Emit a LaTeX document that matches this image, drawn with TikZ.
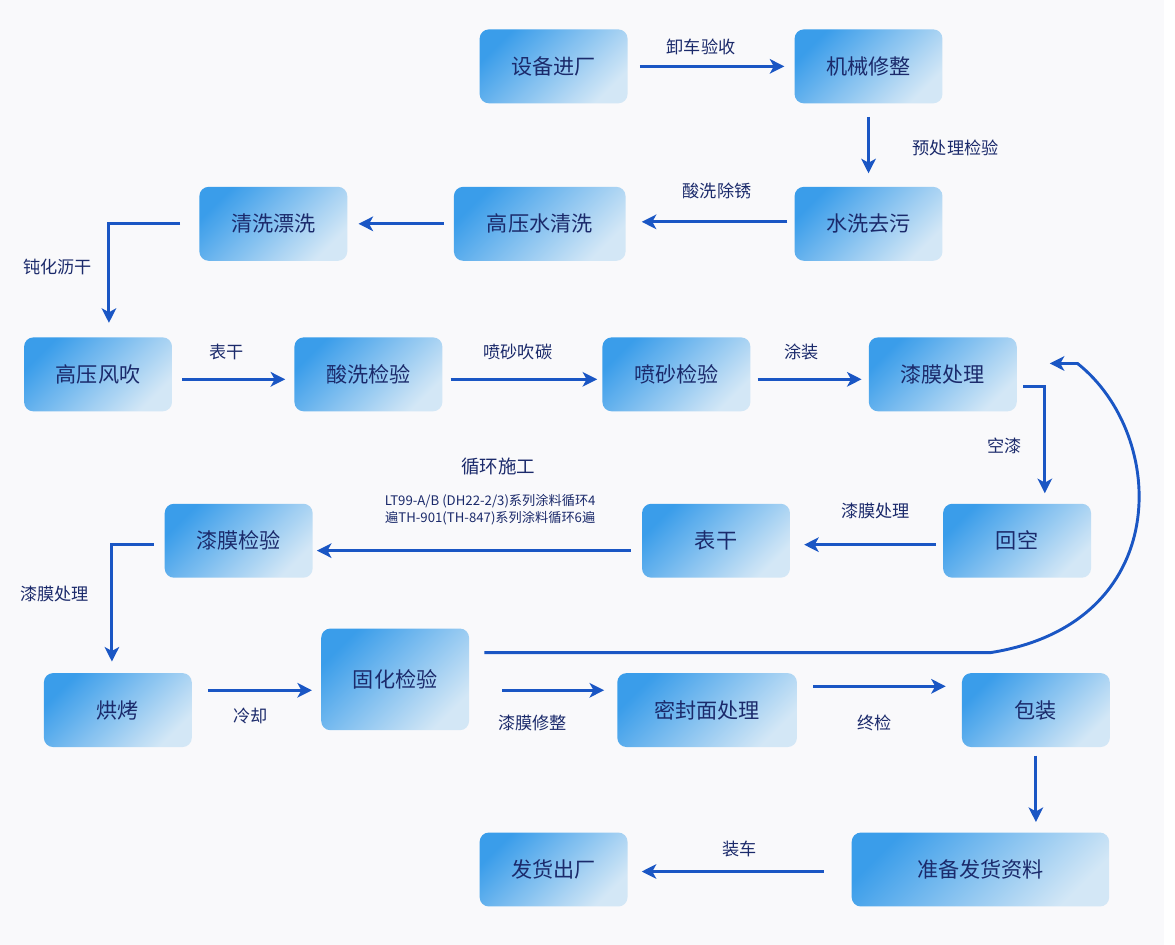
\documentclass[tikz,border=0pt]{standalone}
\usepackage{fontspec}
\setmainfont{Noto Sans CJK SC}
\usetikzlibrary{arrows.meta}
\definecolor{bgc}{HTML}{F9F9FB}
\definecolor{boxA}{HTML}{3A9DEA}
\definecolor{boxB}{HTML}{D3E7F6}
\definecolor{arr}{HTML}{1A56C4}
\definecolor{txt}{HTML}{1B2A6B}
\begin{document}
\begin{tikzpicture}[x=0.75pt,y=-0.75pt]
		\tikzstyle{main}=[rectangle, rounded corners=7pt, minimum width=112pt, minimum height=56pt, top color=boxA, bottom color=boxB, shading angle=45, text=txt, font=\fontsize{16}{18}\selectfont]
		\tikzstyle{connect}=[draw=arr, line width=2.2pt, -{Stealth[length=11pt,width=11pt,inset=3pt]}]
		\tikzstyle{lab}=[text=txt, font=\fontsize{13}{15}\selectfont]
		\fill[bgc] (0,0) rectangle (1175,954);
		\node[main]                       (a) at (559,67)  {设备进厂};
		\node[main]                       (b) at (877,67)  {机械修整};
		\node[main]                       (c) at (877,226) {水洗去污};
		\node[main, minimum width=130pt]  (d) at (545,226) {高压水清洗};
		\node[main]                       (e) at (276,226) {清洗漂洗};
		\node[main]                       (f) at (99,378)  {高压风吹};
		\node[main]                       (g) at (372,378) {酸洗检验};
		\node[main]                       (h) at (683,378) {喷砂检验};
		\node[main]                       (i) at (952,378) {漆膜处理};
		\node[main]                       (j) at (1027,546) {回空};
		\node[main]                       (k) at (723,546) {表干};
		\node[main]                       (l) at (241,546) {漆膜检验};
		\node[main]                       (m) at (119,717) {烘烤};
		\node[main, minimum height=77pt]  (n) at (399,686) {固化检验};
		\node[main, minimum width=136pt]  (o) at (714,717) {密封面处理};
		\node[main]                       (p) at (1046,717) {包装};
		\node[main, minimum width=195pt]  (q) at (990,878) {准备发货资料};
		\node[main]                       (r) at (559,878) {发货出厂};
		
		\node[lab] (la) at (708,47)  {卸车验收};
		\node[lab] (lb) at (965,149) {预处理检验};
		\node[lab] (lc) at (724,193) {酸洗除锈};
		\node[lab] (le) at (58,270)  {钝化沥干};
		\node[lab] (lf) at (229,355) {表干};
		\node[lab] (lg) at (523,355) {喷砂吹碳};
		\node[lab] (lh) at (809,355) {涂装};
		\node[lab] (li) at (1014,450) {空漆};
		\node[lab] (lj) at (884,516) {漆膜处理};
		\node[lab, font=\fontsize{14}{16}\selectfont] (lk) at (503,471) {循环施工};
		\node[text=txt, font=\fontsize{10}{13}\selectfont, align=center] (lk2) at (495,515)
			{LT99-A/B (DH22-2/3)系列涂料循环4\\遍TH-901(TH-847)系列涂料循环6遍};
		\node[lab] (ll) at (55,600)  {漆膜处理};
		\node[lab] (lm) at (253,723) {冷却};
		\node[lab] (ln) at (538,730) {漆膜修整};
		\node[lab] (lo) at (883,730) {终检};
		\node[lab] (lq) at (747,857) {装车};
		
		\path[connect] (646,67) -- (792,67);
		\path[connect] (877,118) -- (877,175);
		\path[connect] (795,224) -- (648,224);
		\path[connect] (448,226) -- (362,226);
		\path[connect] (182,226) -- (110,226) -- (110,326);
		\path[connect] (184,383) -- (288,383);
		\path[connect] (455,383) -- (603,383);
		\path[connect] (765,383) -- (870,383);
		\path[connect] (1033,390) -- (1055,390) -- (1055,498);
		\path[connect] (945,550) -- (812,550);
		\path[connect] (637,556) -- (320,556);
		\path[connect] (155,550) -- (113,550) -- (113,668);
		\path[connect] (210,697) -- (315,697);
		\path[connect] (507,697) -- (610,697);
		\path[connect] (821,693) -- (955,693);
		\path[connect] (1046,763) -- (1046,830);
		\path[connect] (832,880) -- (648,880);
		\path[connect] (489,659) -- (1000,659) .. controls (1185,630) and (1180,440) .. (1088,367) -- (1060,367);
		
		\end{tikzpicture}
\end{document}
